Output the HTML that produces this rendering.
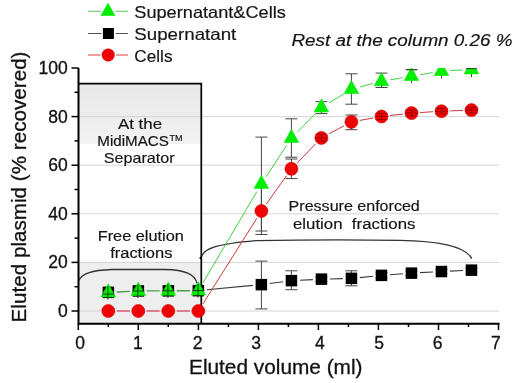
<!DOCTYPE html><html><head><meta charset="utf-8"><style>html,body{margin:0;padding:0;background:#fff;}svg{display:block;will-change:transform;}text{font-family:"Liberation Sans",sans-serif;stroke:#111;stroke-width:0.3px;}.a{stroke-width:0.18px;stroke:#151515}</style></head><body>
<svg width="520" height="383" viewBox="0 0 520 383">
<defs><linearGradient id="gtop" x1="0" y1="0" x2="0" y2="1"><stop offset="0" stop-color="#e7e7e7"/><stop offset="1" stop-color="#f3f3f3"/></linearGradient>
<clipPath id="plot"><rect x="76" y="68" width="440" height="260"/></clipPath></defs>
<rect width="520" height="383" fill="#fff"/>
<rect x="78.5" y="83.5" width="123" height="60.5" fill="url(#gtop)"/>
<rect x="78.5" y="262.4" width="123" height="61" fill="#eeeeee"/>
<line x1="79" y1="311.0" x2="499" y2="311.0" stroke="#d4d4d4" stroke-width="1"/>
<line x1="79" y1="262.4" x2="499" y2="262.4" stroke="#d4d4d4" stroke-width="1"/>
<line x1="79" y1="213.8" x2="499" y2="213.8" stroke="#d4d4d4" stroke-width="1"/>
<line x1="79" y1="165.2" x2="499" y2="165.2" stroke="#d4d4d4" stroke-width="1"/>
<line x1="79" y1="116.6" x2="499" y2="116.6" stroke="#d4d4d4" stroke-width="1"/>
<path d="M78.5 281 C82 273 92 270.3 112 269.5 L165 269.5 C185 270 195 274 197 283.5" fill="none" stroke="#333" stroke-width="1.3"/>
<path d="M201 258 C203 249 215 244 256 240.6 Q330 239.2 400 240.3 C440 241 466 247 471.8 258.6" fill="none" stroke="#333" stroke-width="1.3"/>
<circle cx="200.8" cy="258" r="1.3" fill="#000"/>
<path d="M78.5 83.6H201.3V323.8" fill="none" stroke="#000" stroke-width="1.7"/>
<g clip-path="url(#plot)">
<path d="M206.8 289.8L252.9 285.4M269.8 283.5L283.0 281.7M299.9 280.2L312.9 279.6M329.9 279.0L342.9 278.6M359.9 277.6L373.0 276.2M389.9 274.8L403.0 273.7M420.0 272.6L433.0 272.0M450.0 271.1L463.0 270.5" fill="none" stroke="#3a3a3a" stroke-width="1.1"/>
<path d="M116.8 292.0L129.8 291.4M146.8 290.9L159.8 290.9M176.8 290.7L189.9 290.7" fill="none" stroke="#48a048" stroke-width="1.4"/>
<path d="M202.9 282.9L256.8 191.7M266.3 176.5L286.5 145.6M297.7 131.7L315.1 114.0M329.1 102.9L343.8 93.9M360.1 86.9L372.7 83.6M390.3 79.8L402.6 77.7M420.3 74.7L432.6 72.6M450.5 70.6L462.5 70.0" fill="none" stroke="#40d040" stroke-width="1"/>
<path d="M202.9 303.8L256.9 218.2M266.3 204.1L286.5 175.7M297.3 162.7L315.5 144.0M328.9 133.9L343.9 125.9M359.8 120.4L373.1 118.0M389.9 115.5L403.0 114.1M419.9 112.6L433.0 111.7M450.0 110.9L463.0 110.4" fill="none" stroke="#c83c3c" stroke-width="1"/>
<path d="M116.8 311.0L129.8 311.0M146.8 311.0L159.8 311.0M176.8 311.0L189.9 311.0" fill="none" stroke="#d86070" stroke-width="1.3"/>
<path d="M261.4 261.1V308.9M255.4 261.1H267.4M255.4 308.9H267.4" stroke="#464646" stroke-width="1" fill="none"/>
<path d="M291.4 270.8V289.7M285.4 270.8H297.4M285.4 289.7H297.4" stroke="#464646" stroke-width="1" fill="none"/>
<path d="M321.4 277.0V281.5M315.4 277.0H327.4M315.4 281.5H327.4" stroke="#464646" stroke-width="1" fill="none"/>
<path d="M351.4 270.8V285.8M345.4 270.8H357.4M345.4 285.8H357.4" stroke="#464646" stroke-width="1" fill="none"/>
<path d="M381.5 273.0V278.0M375.5 273.0H387.5M375.5 278.0H387.5" stroke="#464646" stroke-width="1" fill="none"/>
<path d="M411.5 271.0V275.5M405.5 271.0H417.5M405.5 275.5H417.5" stroke="#464646" stroke-width="1" fill="none"/>
<path d="M441.5 269.5V273.5M435.5 269.5H447.5M435.5 273.5H447.5" stroke="#464646" stroke-width="1" fill="none"/>
<path d="M471.5 268.0V272.0M465.5 268.0H477.5M465.5 272.0H477.5" stroke="#464646" stroke-width="1" fill="none"/>
<path d="M261.4 137.1V231.0M255.4 137.1H267.4M255.4 231.0H267.4" stroke="#464646" stroke-width="1" fill="none"/>
<path d="M291.4 118.8V157.2M285.4 118.8H297.4M285.4 157.2H297.4" stroke="#464646" stroke-width="1" fill="none"/>
<path d="M321.4 101.6V113.6M315.4 101.6H327.4M315.4 113.6H327.4" stroke="#464646" stroke-width="1" fill="none"/>
<path d="M351.4 73.8V104.2M345.4 73.8H357.4M345.4 104.2H357.4" stroke="#464646" stroke-width="1" fill="none"/>
<path d="M381.5 73.1V87.5M375.5 73.1H387.5M375.5 87.5H387.5" stroke="#464646" stroke-width="1" fill="none"/>
<path d="M411.5 69.7V83.0M405.5 69.7H417.5" stroke="#464646" stroke-width="1" fill="none"/>
<path d="M441.5 64.0V78.5M435.5 64.0H447.5" stroke="#464646" stroke-width="1" fill="none"/>
<path d="M471.5 62.8V77.2M465.5 62.8H477.5" stroke="#464646" stroke-width="1" fill="none"/>
<path d="M261.4 187.4V234.5M255.4 187.4H267.4M255.4 234.5H267.4" stroke="#464646" stroke-width="1" fill="none"/>
<path d="M291.4 159.0V178.6M285.4 159.0H297.4M285.4 178.6H297.4" stroke="#464646" stroke-width="1" fill="none"/>
<path d="M321.4 134.5V141.0M315.4 134.5H327.4M315.4 141.0H327.4" stroke="#464646" stroke-width="1" fill="none"/>
<path d="M351.4 115.0V129.7M345.4 115.0H357.4M345.4 129.7H357.4" stroke="#464646" stroke-width="1" fill="none"/>
<path d="M381.5 113.5V119.5M375.5 113.5H387.5M375.5 119.5H387.5" stroke="#464646" stroke-width="1" fill="none"/>
<path d="M411.5 110.0V116.0M405.5 110.0H417.5M405.5 116.0H417.5" stroke="#464646" stroke-width="1" fill="none"/>
<path d="M441.5 108.5V114.0M435.5 108.5H447.5M435.5 114.0H447.5" stroke="#464646" stroke-width="1" fill="none"/>
<path d="M471.5 107.5V113.0M465.5 107.5H477.5M465.5 113.0H477.5" stroke="#464646" stroke-width="1" fill="none"/>
<rect x="102.6" y="286.6" width="11.5" height="11.5" fill="#000"/>
<rect x="132.6" y="285.2" width="11.5" height="11.5" fill="#000"/>
<rect x="162.6" y="285.1" width="11.5" height="11.5" fill="#000"/>
<rect x="192.6" y="284.9" width="11.5" height="11.5" fill="#000"/>
<rect x="255.6" y="278.9" width="11.5" height="11.5" fill="#000"/>
<rect x="285.7" y="274.9" width="11.5" height="11.5" fill="#000"/>
<rect x="315.7" y="273.4" width="11.5" height="11.5" fill="#000"/>
<rect x="345.7" y="272.6" width="11.5" height="11.5" fill="#000"/>
<rect x="375.7" y="269.6" width="11.5" height="11.5" fill="#000"/>
<rect x="405.7" y="267.4" width="11.5" height="11.5" fill="#000"/>
<rect x="435.7" y="265.8" width="11.5" height="11.5" fill="#000"/>
<rect x="465.7" y="264.4" width="11.5" height="11.5" fill="#000"/>
<path d="M108.3 283.7L115.6 296.9L101.1 296.9Z" fill="#00ee00" stroke="#00ee00" stroke-width="0.6"/>
<path d="M138.3 282.2L145.6 295.4L131.1 295.4Z" fill="#00ee00" stroke="#00ee00" stroke-width="0.6"/>
<path d="M168.3 282.0L175.6 295.2L161.1 295.2Z" fill="#00ee00" stroke="#00ee00" stroke-width="0.6"/>
<path d="M198.4 281.8L205.6 295.0L191.1 295.0Z" fill="#00ee00" stroke="#00ee00" stroke-width="0.6"/>
<path d="M261.4 175.2L268.6 188.4L254.1 188.4Z" fill="#00ee00" stroke="#00ee00" stroke-width="0.6"/>
<path d="M291.4 129.3L298.7 142.5L284.2 142.5Z" fill="#00ee00" stroke="#00ee00" stroke-width="0.6"/>
<path d="M321.4 98.8L328.7 112.0L314.2 112.0Z" fill="#00ee00" stroke="#00ee00" stroke-width="0.6"/>
<path d="M351.4 80.4L358.7 93.6L344.2 93.6Z" fill="#00ee00" stroke="#00ee00" stroke-width="0.6"/>
<path d="M381.5 72.5L388.7 85.7L374.2 85.7Z" fill="#00ee00" stroke="#00ee00" stroke-width="0.6"/>
<path d="M411.5 67.4L418.7 80.6L404.2 80.6Z" fill="#00ee00" stroke="#00ee00" stroke-width="0.6"/>
<path d="M441.5 62.3L448.7 75.5L434.2 75.5Z" fill="#00ee00" stroke="#00ee00" stroke-width="0.6"/>
<path d="M471.5 60.7L478.7 73.9L464.2 73.9Z" fill="#00ee00" stroke="#00ee00" stroke-width="0.6"/>
<path d="M102.3 294.1H114.3M107.9 286.0V299.5" stroke="#1c3a1c" stroke-width="1" fill="none"/>
<path d="M132.3 291.0H144.3M137.9 284.5V298.0" stroke="#1c3a1c" stroke-width="1" fill="none"/>
<path d="M162.3 290.8H174.3M167.9 284.3V297.8" stroke="#1c3a1c" stroke-width="1" fill="none"/>
<path d="M192.4 290.6H204.4M198.0 284.1V297.6" stroke="#1c3a1c" stroke-width="1" fill="none"/>
<path d="M406.0 69.7H417.0" stroke="#2a4a2a" stroke-width="1" fill="none"/>
<path d="M466.0 68.6H477.0" stroke="#2a4a2a" stroke-width="1" fill="none"/>
<circle cx="108.3" cy="311.0" r="6.5" fill="#f00000" stroke="#d00000" stroke-width="0.6"/>
<circle cx="138.3" cy="311.0" r="6.5" fill="#f00000" stroke="#d00000" stroke-width="0.6"/>
<circle cx="168.3" cy="311.0" r="6.5" fill="#f00000" stroke="#d00000" stroke-width="0.6"/>
<circle cx="198.4" cy="311.0" r="6.5" fill="#f00000" stroke="#d00000" stroke-width="0.6"/>
<circle cx="261.4" cy="211.0" r="6.5" fill="#f00000" stroke="#d00000" stroke-width="0.6"/>
<circle cx="291.4" cy="168.8" r="6.5" fill="#f00000" stroke="#d00000" stroke-width="0.6"/>
<circle cx="321.4" cy="137.9" r="6.5" fill="#f00000" stroke="#d00000" stroke-width="0.6"/>
<circle cx="351.4" cy="121.9" r="6.5" fill="#f00000" stroke="#d00000" stroke-width="0.6"/>
<circle cx="381.5" cy="116.5" r="6.5" fill="#f00000" stroke="#d00000" stroke-width="0.6"/>
<circle cx="411.5" cy="113.1" r="6.5" fill="#f00000" stroke="#d00000" stroke-width="0.6"/>
<circle cx="441.5" cy="111.2" r="6.5" fill="#f00000" stroke="#d00000" stroke-width="0.6"/>
<circle cx="471.5" cy="110.1" r="6.5" fill="#f00000" stroke="#d00000" stroke-width="0.6"/>
<path d="M315.4 137.9H327.4M316.9 134.5H325.9M316.9 141.0H325.9M321.4 134.5V141.0" stroke="#8a0000" stroke-width="1" fill="none" opacity="0.75"/>
<path d="M375.5 116.5H387.5M377.0 113.5H386.0M377.0 119.5H386.0M381.5 113.5V119.5" stroke="#8a0000" stroke-width="1" fill="none" opacity="0.75"/>
<path d="M405.5 113.1H417.5M407.0 110.0H416.0M407.0 116.0H416.0M411.5 110.0V116.0" stroke="#8a0000" stroke-width="1" fill="none" opacity="0.75"/>
<path d="M435.5 111.2H447.5M437.0 108.5H446.0M437.0 114.0H446.0M441.5 108.5V114.0" stroke="#8a0000" stroke-width="1" fill="none" opacity="0.75"/>
<path d="M465.5 110.1H477.5M467.0 107.5H476.0M467.0 113.0H476.0M471.5 107.5V113.0" stroke="#8a0000" stroke-width="1" fill="none" opacity="0.75"/>
</g>
<path d="M78.5 68V324.8M77.5 323.8H499.5" fill="none" stroke="#000" stroke-width="2"/>
<line x1="71.5" y1="311.0" x2="78.5" y2="311.0" stroke="#000" stroke-width="1.5"/>
<line x1="74.5" y1="286.7" x2="78.5" y2="286.7" stroke="#000" stroke-width="1.5"/>
<line x1="71.5" y1="262.4" x2="78.5" y2="262.4" stroke="#000" stroke-width="1.5"/>
<line x1="74.5" y1="238.1" x2="78.5" y2="238.1" stroke="#000" stroke-width="1.5"/>
<line x1="71.5" y1="213.8" x2="78.5" y2="213.8" stroke="#000" stroke-width="1.5"/>
<line x1="74.5" y1="189.5" x2="78.5" y2="189.5" stroke="#000" stroke-width="1.5"/>
<line x1="71.5" y1="165.2" x2="78.5" y2="165.2" stroke="#000" stroke-width="1.5"/>
<line x1="74.5" y1="140.9" x2="78.5" y2="140.9" stroke="#000" stroke-width="1.5"/>
<line x1="71.5" y1="116.6" x2="78.5" y2="116.6" stroke="#000" stroke-width="1.5"/>
<line x1="74.5" y1="92.3" x2="78.5" y2="92.3" stroke="#000" stroke-width="1.5"/>
<line x1="71.5" y1="68.0" x2="78.5" y2="68.0" stroke="#000" stroke-width="1.5"/>
<line x1="78.3" y1="323.8" x2="78.3" y2="330" stroke="#000" stroke-width="1.5"/>
<line x1="108.3" y1="323.8" x2="108.3" y2="327" stroke="#000" stroke-width="1.5"/>
<line x1="138.3" y1="323.8" x2="138.3" y2="330" stroke="#000" stroke-width="1.5"/>
<line x1="168.3" y1="323.8" x2="168.3" y2="327" stroke="#000" stroke-width="1.5"/>
<line x1="198.4" y1="323.8" x2="198.4" y2="330" stroke="#000" stroke-width="1.5"/>
<line x1="228.4" y1="323.8" x2="228.4" y2="327" stroke="#000" stroke-width="1.5"/>
<line x1="258.4" y1="323.8" x2="258.4" y2="330" stroke="#000" stroke-width="1.5"/>
<line x1="288.4" y1="323.8" x2="288.4" y2="327" stroke="#000" stroke-width="1.5"/>
<line x1="318.4" y1="323.8" x2="318.4" y2="330" stroke="#000" stroke-width="1.5"/>
<line x1="348.4" y1="323.8" x2="348.4" y2="327" stroke="#000" stroke-width="1.5"/>
<line x1="378.4" y1="323.8" x2="378.4" y2="330" stroke="#000" stroke-width="1.5"/>
<line x1="408.5" y1="323.8" x2="408.5" y2="327" stroke="#000" stroke-width="1.5"/>
<line x1="438.5" y1="323.8" x2="438.5" y2="330" stroke="#000" stroke-width="1.5"/>
<line x1="468.5" y1="323.8" x2="468.5" y2="327" stroke="#000" stroke-width="1.5"/>
<line x1="498.5" y1="323.8" x2="498.5" y2="330" stroke="#000" stroke-width="1.5"/>
<text x="67.8" y="317.0" font-size="17.5" text-anchor="end" fill="#111">0</text>
<text x="67.8" y="268.4" font-size="17.5" text-anchor="end" fill="#111">20</text>
<text x="67.8" y="219.8" font-size="17.5" text-anchor="end" fill="#111">40</text>
<text x="67.8" y="171.2" font-size="17.5" text-anchor="end" fill="#111">60</text>
<text x="67.8" y="122.6" font-size="17.5" text-anchor="end" fill="#111">80</text>
<text x="67.8" y="74.0" font-size="17.5" text-anchor="end" fill="#111">100</text>
<text x="80.0" y="348.5" font-size="17.5" text-anchor="middle" fill="#111">0</text>
<text x="137.9" y="348.5" font-size="17.5" text-anchor="middle" fill="#111">1</text>
<text x="197.7" y="348.5" font-size="17.5" text-anchor="middle" fill="#111">2</text>
<text x="256.1" y="348.5" font-size="17.5" text-anchor="middle" fill="#111">3</text>
<text x="319.9" y="348.5" font-size="17.5" text-anchor="middle" fill="#111">4</text>
<text x="379.1" y="348.5" font-size="17.5" text-anchor="middle" fill="#111">5</text>
<text x="437.5" y="348.5" font-size="17.5" text-anchor="middle" fill="#111">6</text>
<text x="495.9" y="348.5" font-size="17.5" text-anchor="middle" fill="#111">7</text>
<text x="189" y="374" font-size="20" textLength="173.5" lengthAdjust="spacingAndGlyphs" fill="#111">Eluted volume (ml)</text>
<text transform="translate(25.6 322.4) rotate(-90)" x="0" y="0" font-size="20" textLength="270.9" lengthAdjust="spacingAndGlyphs" fill="#111">Eluted plasmid (% recovered)</text>
<path d="M88 11.3H101M115.5 11.3H128" stroke="#60c860" stroke-width="1.1"/>
<path d="M108.0 3.2L115.0 15.5L101.0 15.5Z" fill="#00ee00" stroke="#00ee00" stroke-width="0.6"/>
<path d="M88 33.5H101.5M115.5 33.5H128" stroke="#505050" stroke-width="1.1"/>
<rect x="102.9" y="28.0" width="11" height="11" fill="#000"/>
<path d="M88 55H100.5M116 55H128" stroke="#e03c3c" stroke-width="1.1"/>
<circle cx="108.2" cy="55.0" r="6.2" fill="#f00000" stroke="#d00000" stroke-width="0.6"/>
<text x="134.3" y="18.3" font-size="16.5" textLength="151.5" lengthAdjust="spacingAndGlyphs" class="a" fill="#151515" >Supernatant&amp;Cells</text>
<text x="134.3" y="39.9" font-size="16.5" textLength="102" lengthAdjust="spacingAndGlyphs" class="a" fill="#151515" >Supernatant</text>
<text x="134.3" y="61.8" font-size="16.5" textLength="38.2" lengthAdjust="spacingAndGlyphs" class="a" fill="#151515" >Cells</text>
<text x="291.5" y="46" font-size="16" textLength="221" lengthAdjust="spacingAndGlyphs" class="a" fill="#151515" font-style="italic">Rest at the column 0.26 %</text>
<text x="117.9" y="128.5" font-size="14.6" textLength="44.2" lengthAdjust="spacingAndGlyphs" class="a" fill="#151515" >At the</text>
<text x="97.3" y="146.2" font-size="14.6" textLength="71.5" lengthAdjust="spacingAndGlyphs" class="a" fill="#151515" >MidiMACS</text>
<text x="169.5" y="141" font-size="9" class="a" fill="#151515">TM</text>
<text x="103.8" y="163" font-size="14.6" textLength="70.8" lengthAdjust="spacingAndGlyphs" class="a" fill="#151515" >Separator</text>
<text x="97.7" y="240.8" font-size="15.2" textLength="86.2" lengthAdjust="spacingAndGlyphs" class="a" fill="#151515" >Free elution</text>
<text x="110.2" y="258" font-size="15.2" textLength="62.2" lengthAdjust="spacingAndGlyphs" class="a" fill="#151515" >fractions</text>
<text x="288.6" y="211.4" font-size="15.2" textLength="131.2" lengthAdjust="spacingAndGlyphs" class="a" fill="#151515" >Pressure enforced</text>
<text x="293" y="228.7" font-size="15.2" textLength="122.4" lengthAdjust="spacingAndGlyphs" class="a" fill="#151515" xml:space="preserve">elution  fractions</text>
</svg></body></html>
